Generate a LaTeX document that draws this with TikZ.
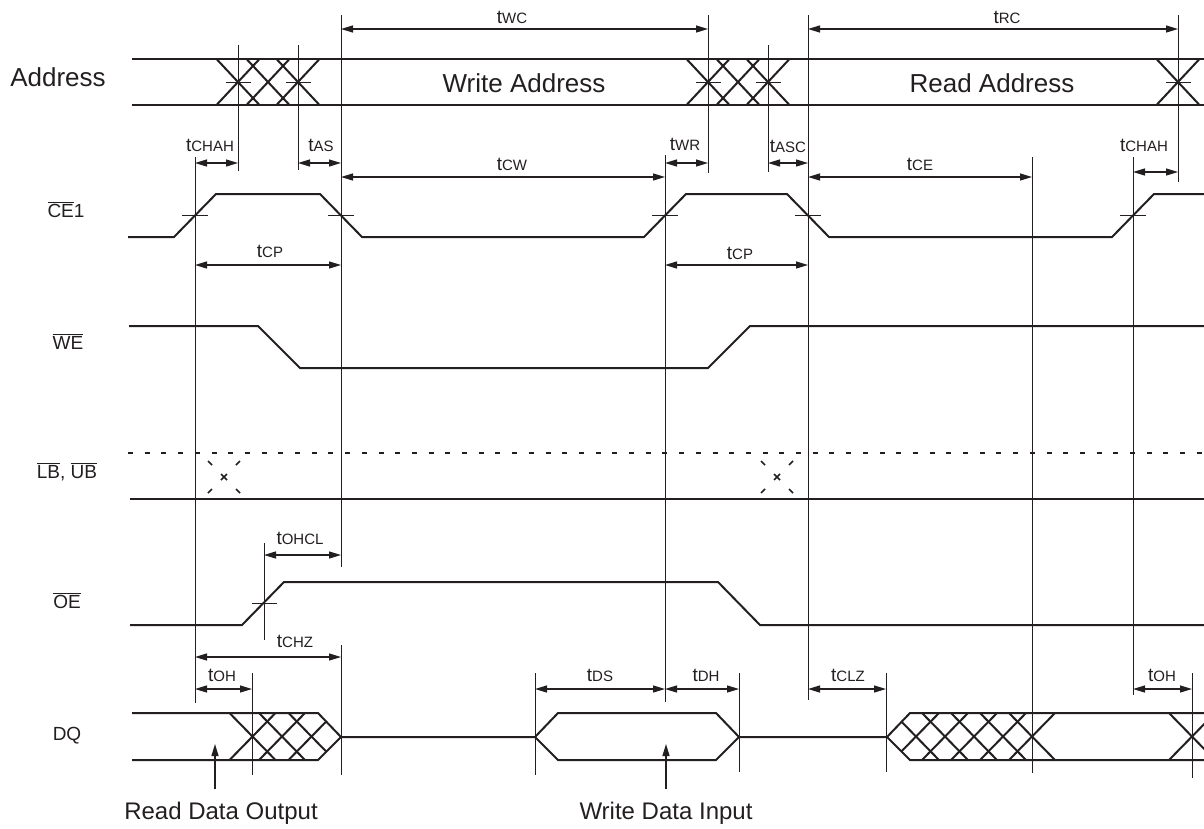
\documentclass[tikz,border=0pt]{standalone}
\usepackage{fontspec}
\setmainfont{Liberation Sans}
\usepackage{xcolor}
\usepackage{tikz}
\usetikzlibrary{arrows.meta}
\definecolor{ink}{HTML}{231F20}
\newcommand{\tm}[1]{{\fontsize{19}{19}\selectfont t\fontsize{15}{15}\selectfont #1}}
\newcommand{\ovr}[1]{$\overline{\hbox{#1}}$}
\tikzset{
  wave/.style={ink,line width=2pt},
  guide/.style={ink,line width=0.9pt},
  dimarr/.style={{Triangle[length=12pt,width=7pt]}-{Triangle[length=12pt,width=7pt]},ink,line width=1.2pt},
  ptr/.style={-{Triangle[length=12pt,width=7pt]},ink,line width=1.2pt},
  tlab/.style={anchor=base,inner sep=0pt,text=ink},
  sname/.style={anchor=base,inner sep=0pt,text=ink,font=\fontsize{19}{19}\selectfont},
  big/.style={anchor=base,inner sep=0pt,text=ink,font=\fontsize{26}{26}\selectfont},
  botlab/.style={anchor=base,inner xsep=0pt,inner ysep=12pt,text=ink,font=\fontsize{24}{24}\selectfont}
}

\begin{document}
\begin{tikzpicture}[x=1pt,y=-1pt]
\useasboundingbox (0,0) rectangle (1204,828);
% address bus
\draw[wave] (132,59)--(1204,59) (132,105)--(1204,105);
\foreach \cx in {238,268,298,708,738,768,1178}
  \draw[wave] (\cx-21.5,59)--(\cx+21.5,105) (\cx-21.5,105)--(\cx+21.5,59);
% control lines
\draw[wave] (128,237)--(174,237)--(216,194)--(320,194)--(362,237)--(644,237)--(686,194)--(787,194)--(829,237)--(1112,237)--(1154,194)--(1204,194);
\draw[wave] (129,326)--(258,326)--(300,368)--(708,368)--(750,326)--(1204,326);
\draw[wave,dash pattern=on 5pt off 11.7pt] (128,453)--(1204,453);
\draw[wave] (130,499)--(1204,499);
\foreach \cx in {224,777}
  \draw[wave,line width=1.6pt] (\cx-16,461)--(\cx-12,465) (\cx+16,461)--(\cx+12,465)
    (\cx-16,493)--(\cx-12,489) (\cx+16,493)--(\cx+12,489)
    (\cx-3,474)--(\cx+3,480) (\cx-3,480)--(\cx+3,474);
\draw[wave] (130,625)--(242,625)--(284,582)--(718,582)--(760,625)--(1204,625);
% data bus
\draw[wave] (132,713)--(318,713)--(341,737)--(318,760)--(132,760);
\draw[wave] (341,737)--(535,737)--(558,713)--(716,713)--(739,737)--(716,760)--(558,760)--(535,737)
  (739,737)--(887,737)--(910,713)--(1204,713) (887,737)--(910,760)--(1204,760);
\begin{scope}
  \clip (200,713)--(318,713)--(341,737)--(318,760)--(200,760)--cycle;
  \foreach \cx in {252.5,282,311.5}
    \draw[wave] (\cx-23,713)--(\cx+23,760) (\cx-23,760)--(\cx+23,713);
\end{scope}
\begin{scope}
  \clip (887,737)--(910,713)--(1204,713)--(1204,760)--(910,760)--cycle;
  \foreach \cx in {916,945,974,1003,1032,1192}
    \draw[wave] (\cx-23,713)--(\cx+23,760) (\cx-23,760)--(\cx+23,713);
\end{scope}
% reference lines
\draw[guide] (195,157)--(195,703) (238,45)--(238,171) (298,45)--(298,170)
  (341,15)--(341,567) (341,645)--(341,775) (665,155)--(665,702) (708,15)--(708,173)
  (768,45)--(768,172) (808,15)--(808,700) (1032,157)--(1032,773) (1133,157)--(1133,695)
  (1178,15)--(1178,182) (264,543)--(264,640) (252,673)--(252,775) (535,673)--(535,775)
  (739,673)--(739,772) (886,673)--(886,772) (1192,673)--(1192,778);
\foreach \cx in {238,298,708,768,1178} \draw[guide] (\cx-12.5,82)--(\cx+12.5,82);
\foreach \cx in {195,341,665,808,1133} \draw[guide] (\cx-13,215)--(\cx+13,215);
\draw[guide] (251.5,603)--(276.5,603);
% timing arrows
\draw[dimarr] (341,29)--(708,29);
\draw[dimarr] (808,29)--(1178,29);
\draw[dimarr] (195,163)--(238,163);
\draw[dimarr] (298,163)--(341,163);
\draw[dimarr] (341,177)--(665,177);
\draw[dimarr] (665,163)--(708,163);
\draw[dimarr] (768,163)--(808,163);
\draw[dimarr] (808,177)--(1032,177);
\draw[dimarr] (1133,172)--(1178,172);
\draw[dimarr] (195,265)--(341,265);
\draw[dimarr] (665,265)--(808,265);
\draw[dimarr] (264,555)--(341,555);
\draw[dimarr] (195,657)--(341,657);
\draw[dimarr] (195,689)--(252,689);
\draw[dimarr] (535,689)--(665,689);
\draw[dimarr] (665,689)--(739,689);
\draw[dimarr] (808,689)--(886,689);
\draw[dimarr] (1133,689)--(1192,689);
% timing labels
\node[tlab] (tWC) at (512,23) {\tm{WC}};
\node[tlab] (tRC) at (1007,23) {\tm{RC}};
\node[tlab] (tCHAHa) at (210,151) {\tm{CHAH}};
\node[tlab] (tAS) at (321,151) {\tm{AS}};
\node[tlab] (tCW) at (512,170) {\tm{CW}};
\node[tlab] (tWR) at (685,150) {\tm{WR}};
\node[tlab] (tASC) at (788,152) {\tm{ASC}};
\node[tlab] (tCE) at (920,170) {\tm{CE}};
\node[tlab] (tCHAHb) at (1144,151) {\tm{CHAH}};
\node[tlab] (tCPa) at (270,257) {\tm{CP}};
\node[tlab] (tCPb) at (740,259) {\tm{CP}};
\node[tlab] (tOHCL) at (300,544) {\tm{OHCL}};
\node[tlab] (tCHZ) at (295,647) {\tm{CHZ}};
\node[tlab] (tOHa) at (222,681) {\tm{OH}};
\node[tlab] (tDS) at (600,681) {\tm{DS}};
\node[tlab] (tDH) at (706,681) {\tm{DH}};
\node[tlab] (tCLZ) at (848,681) {\tm{CLZ}};
\node[tlab] (tOHb) at (1162,681) {\tm{OH}};
% signal names
\node[big] (lAddr) at (58,86) {Address};
\node[big] (lWAddr) at (524,92) {Write Address};
\node[big] (lRAddr) at (992,92) {Read Address};
\node[sname] (lCE) at (66,217) {\ovr{CE}1};
\node[sname] (lWE) at (68,349) {\ovr{WE}};
\node[sname] (lLB) at (67,478) {\ovr{LB}, \ovr{UB}};
\node[sname] (lOE) at (67,608) {\ovr{OE}};
\node[sname] (lDQ) at (67,740) {DQ};
\coordinate (rdTip) at (215,744);
\coordinate (wrTip) at (666,744);
\node[botlab] (lRd) at (221,819) {Read Data Output};
\node[botlab] (lWr) at (666,819) {Write Data Input};
\draw[ptr] (lRd.north -| rdTip)--(rdTip);
\draw[ptr] (lWr.north -| wrTip)--(wrTip);
\end{tikzpicture}
\end{document}
